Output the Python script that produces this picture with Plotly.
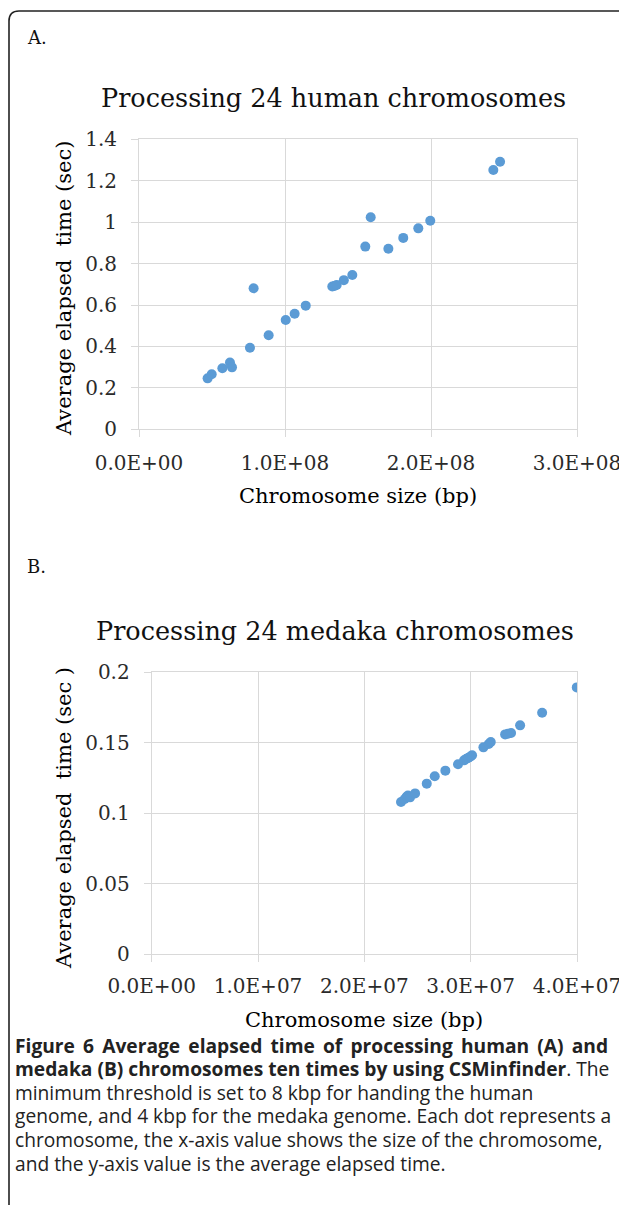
import plotly.graph_objects as go

# ---------------- data ----------------
human_size_bp = [47.0e6, 49.8e6, 57.1e6, 62.3e6, 63.7e6, 76.0e6, 78.5e6, 88.8e6,
                 100.5e6, 106.6e6, 114.2e6, 132.4e6, 133.8e6, 135.4e6, 140.3e6, 146.1e6,
                 155.0e6, 158.7e6, 170.8e6, 181.0e6, 191.3e6, 199.5e6, 242.7e6, 247.3e6]
human_time_sec = [0.246, 0.266, 0.295, 0.322, 0.299, 0.394, 0.681, 0.454,
                  0.528, 0.558, 0.597, 0.689, 0.692, 0.697, 0.720, 0.745,
                  0.882, 1.024, 0.872, 0.924, 0.970, 1.007, 1.252, 1.292]

medaka_size_bp = [23.45e6, 23.80e6, 23.99e6, 24.10e6, 24.30e6, 24.77e6, 25.87e6, 26.62e6,
                  27.62e6, 28.81e6, 29.38e6, 29.60e6, 29.79e6, 30.00e6, 30.13e6, 31.20e6,
                  31.70e6, 31.89e6, 33.24e6, 33.50e6, 33.80e6, 34.65e6, 36.72e6, 39.98e6]
medaka_time_sec = [0.1079, 0.1100, 0.1117, 0.1125, 0.1112, 0.1140, 0.1209, 0.1261,
                   0.1301, 0.1346, 0.1374, 0.1385, 0.1393, 0.1402, 0.1410, 0.1466,
                   0.1490, 0.1504, 0.1558, 0.1562, 0.1568, 0.1622, 0.1711, 0.1891]

human_xticks = [0, 1e8, 2e8, 3e8]
human_xtick_labels = ["0.0E+00", "1.0E+08", "2.0E+08", "3.0E+08"]
human_yticks = [0, 0.2, 0.4, 0.6, 0.8, 1.0, 1.2, 1.4]
human_ytick_labels = ["0", "0.2", "0.4", "0.6", "0.8", "1", "1.2", "1.4"]

medaka_xticks = [0, 1e7, 2e7, 3e7, 4e7]
medaka_xtick_labels = ["0.0E+00", "1.0E+07", "2.0E+07", "3.0E+07", "4.0E+07"]
medaka_yticks = [0, 0.05, 0.1, 0.15, 0.2]
medaka_ytick_labels = ["0", "0.05", "0.1", "0.15", "0.2"]

title_a = "Processing 24 human chromosomes"
title_b = "Processing 24 medaka chromosomes"
x_title = "Chromosome size (bp)"
y_title_a = "Average elapsed  time (sec)"
y_title_b = "Average elapsed  time (sec )"
THIN = "\u2009"
caption_lines = [
    "<b>" + (" " + THIN).join("Figure 6 Average elapsed time of processing human (A) and".split(" ")) + "</b>",
    "<b>medaka (B) chromosomes ten times by using CSMinfinder</b>. The",
    "minimum threshold is set to 8 kbp for handing the human",
    "genome, and 4 kbp for the medaka genome. Each dot represents a",
    "chromosome, the x-axis value shows the size of the chromosome,",
    "and the y-axis value is the average elapsed time.",
]

# ---------------- layout helpers ----------------
W, H = 627, 1205
OFF = 8  # page body margin of the html page
def px(x):
    return (x - OFF) / W
def py(y):
    return 1 - (y - OFF) / H

SERIF = "DejaVu Serif"
SANS = "Open Sans"
GRID = "#d9d9d9"
DOT = "#5b9bd5"
TXT = "#111111"
TICK_TXT = "#2a2a2a"

fig = go.Figure()
fig.add_trace(go.Scatter(x=human_size_bp, y=human_time_sec, mode="markers",
                         marker=dict(color=DOT, size=10), xaxis="x", yaxis="y",
                         showlegend=False))
fig.add_trace(go.Scatter(x=medaka_size_bp, y=medaka_time_sec, mode="markers",
                         marker=dict(color=DOT, size=10), xaxis="x2", yaxis="y2",
                         showlegend=False))

def xaxis(dom, rng, vals, labels, anchor, standoff):
    return dict(domain=dom, range=rng, tickvals=vals, ticktext=labels, anchor=anchor,
                showgrid=True, gridcolor=GRID, gridwidth=1, zeroline=False,
                showline=True, linecolor=GRID, linewidth=1, mirror=True,
                ticks="outside", ticklen=7, tickcolor=GRID, ticklabelstandoff=standoff,
                tickfont=dict(family=SERIF, size=20, color=TICK_TXT), fixedrange=True,
                automargin=False)

def yaxis(dom, rng, vals, labels, anchor):
    return dict(domain=dom, range=rng, tickvals=vals, ticktext=labels, anchor=anchor,
                showgrid=True, gridcolor=GRID, gridwidth=1, zeroline=False,
                showline=True, linecolor=GRID, linewidth=1, mirror=True,
                ticks="outside", ticklen=7, tickcolor=GRID, ticklabelstandoff=10,
                tickfont=dict(family=SERIF, size=20, color=TICK_TXT), fixedrange=True,
                automargin=False)

fig.update_layout(
    width=W, height=H, margin=dict(l=0, r=0, t=0, b=0, pad=0, autoexpand=False),
    paper_bgcolor="white", plot_bgcolor="white",
    xaxis=xaxis([px(139), px(577)], [0, 3e8], human_xticks, human_xtick_labels, "y", 9),
    yaxis=yaxis([py(429.3), py(139.3)], [0, 1.4], human_yticks, human_ytick_labels, "x"),
    xaxis2=xaxis([px(151.7), px(577)], [0, 4e7], medaka_xticks, medaka_xtick_labels, "y2", 7),
    yaxis2=yaxis([py(954.3), py(672)], [0, 0.2], medaka_yticks, medaka_ytick_labels, "x2"),
)

def note(text, x, y, size, family=SERIF, xanchor="center", yanchor="middle", angle=0,
         align="center", color=TXT):
    fig.add_annotation(text=text, x=px(x), y=py(y), xref="paper", yref="paper",
                       showarrow=False, xanchor=xanchor, yanchor=yanchor, textangle=angle,
                       align=align, font=dict(family=family, size=size, color=color))

note("A.", 25, 37, 18, xanchor="left")
note(title_a, 333, 98, 25.5)
note(y_title_a, 64, 289, 21, angle=-90, color="#000000")
note(x_title, 358, 496, 21, color="#000000")

note("B.", 25, 566, 18, xanchor="left")
note(title_b, 335, 631, 25.5)
note(y_title_b, 64, 818, 21, angle=-90, color="#000000")
note(x_title, 364, 1020, 21, color="#000000")

for i, line in enumerate(caption_lines):
    note(line, 13, 1045 + i * 23.6, 19.2, family=SANS, xanchor="left", align="left",
         color="#222222")

# rounded frame (top-left corner visible; continues off page right and bottom)
r = 10
path = (f"M {px(9)},{py(1230)} L {px(9)},{py(11 + r)} "
        f"Q {px(9)},{py(11)} {px(9 + r)},{py(11)} L {px(650)},{py(11)}")
fig.add_shape(type="path", path=path, xref="paper", yref="paper",
              line=dict(color="#222222", width=1.6))

fig.write_html("out.html")
